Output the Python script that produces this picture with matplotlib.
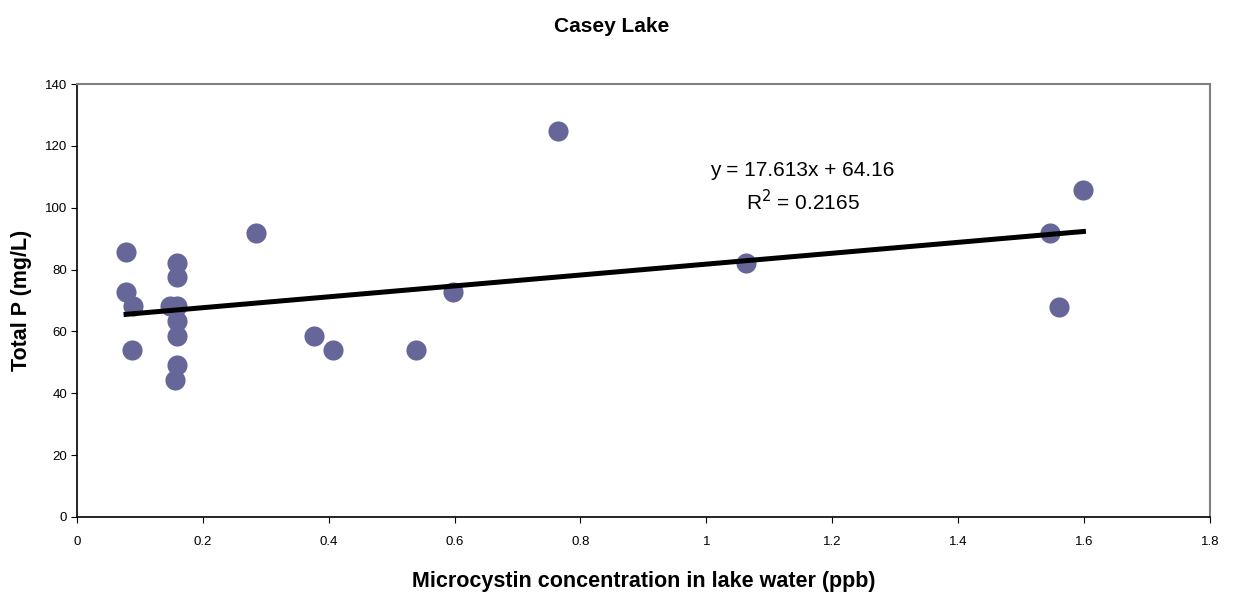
import numpy as np
import matplotlib.pyplot as plt

# data
microcystin = [0.078, 0.078, 0.089, 0.087, 0.148, 0.159, 0.159, 0.159, 0.159, 0.159,
               0.159, 0.156, 0.285, 0.377, 0.407, 0.539, 0.598, 0.764, 1.063, 1.599,
               1.546, 1.560]
total_p = [85.6, 72.8, 68.2, 54.0, 68.2, 82.2, 77.5, 68.2, 63.4, 58.6,
           49.1, 44.3, 91.7, 58.6, 54.0, 54.0, 72.7, 124.8, 82.1, 105.9,
           91.7, 68.0]
slope = 17.613
intercept = 64.16
r2 = 0.2165

plt.rcParams['font.family'] = ['Liberation Sans', 'DejaVu Sans']

fig = plt.figure(figsize=(12.33, 5.92), dpi=100)
ax = fig.add_axes([0.0624, 0.1267, 0.9189, 0.7313])

ax.scatter(microcystin, total_p, s=210, color='#666699', zorder=3, linewidths=0)

# trend line over the data range
xs = np.array([min(microcystin), max(microcystin)])
ax.plot(xs, slope * xs + intercept, color='black', linewidth=3.6, zorder=4)

ax.text(1.153, 106.5, "y = %.3fx + %.2f\nR$^2$ = %.4f" % (slope, intercept, r2),
        ha='center', va='center', fontsize=15, linespacing=1.45)

ax.set_xlim(0, 1.8)
ax.set_ylim(0, 140)
ax.set_xticks(np.arange(0, 1.81, 0.2))
ax.set_xticklabels(['0', '0.2', '0.4', '0.6', '0.8', '1', '1.2', '1.4', '1.6', '1.8'])
ax.set_yticks(range(0, 141, 20))
ax.tick_params(labelsize=9.5, length=4, direction='out')
ax.tick_params(axis='x', pad=10)
ax.tick_params(axis='y', pad=3)

for s in ['top', 'right']:
    ax.spines[s].set_color('#808080')
    ax.spines[s].set_linewidth(1.5)
for s in ['left', 'bottom']:
    ax.spines[s].set_color('black')
    ax.spines[s].set_linewidth(1.2)

ax.set_xlabel("Microcystin concentration in lake water (ppb)", fontsize=15.5, fontweight='bold', labelpad=16)
ax.set_ylabel("Total P (mg/L)", fontsize=15.5, fontweight='bold', labelpad=9)
fig.text(0.496, 0.955, "Casey Lake", fontsize=15, fontweight='bold', ha='center', va='center')

fig.savefig("out.png", dpi=100)
